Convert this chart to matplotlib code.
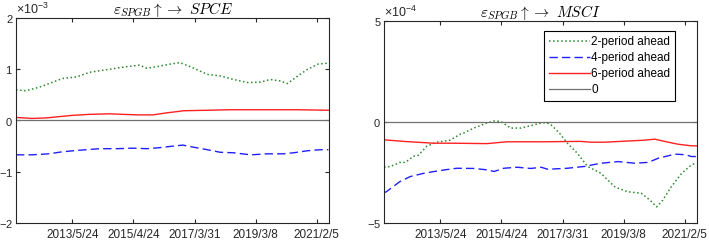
import matplotlib
matplotlib.use("Agg")
import matplotlib.pyplot as plt
from matplotlib.ticker import ScalarFormatter, FixedLocator

plt.rcParams['font.family'] = ['Liberation Sans', 'DejaVu Sans']
plt.rcParams['axes.unicode_minus'] = False
plt.rcParams['mathtext.fontset'] = 'custom'
plt.rcParams['mathtext.rm'] = 'Liberation Sans'

# weekly observations, index 0 ~ 2011/8/26
n_weeks = 512
tick_weeks = [92, 192, 292, 392, 492]
tick_labels = ['2013/5/24', '2015/4/24', '2017/3/31', '2019/3/8', '2021/2/5']
legend_labels = ['2-period ahead', '4-period ahead', '6-period ahead', '0']

# panel 1: eps_SPGB -> SPCE (x1e-3)
spce_w2 = [0, 16, 38, 54, 76, 99, 120, 153, 181, 202, 214, 230, 252, 268, 285,
           313, 334, 356, 379, 400, 416, 433, 444, 461, 477, 494, 511]
spce_v2 = [0.60, 0.58, 0.65, 0.72, 0.82, 0.85, 0.94, 1.00, 1.05, 1.08, 1.02, 1.05, 1.10, 1.13, 1.05,
           0.90, 0.87, 0.80, 0.74, 0.75, 0.80, 0.77, 0.72, 0.87, 1.00, 1.10, 1.12]
spce_w4 = [0, 26, 54, 76, 104, 137, 165, 191, 214, 235, 257, 273, 290, 313, 334,
           356, 384, 412, 438, 454, 477, 498, 511]
spce_v4 = [-0.67, -0.67, -0.65, -0.61, -0.58, -0.55, -0.55, -0.54, -0.55, -0.53, -0.50, -0.48, -0.52, -0.57, -0.62,
           -0.63, -0.67, -0.65, -0.65, -0.63, -0.59, -0.57, -0.57]
spce_w6 = [0, 26, 49, 66, 92, 120, 153, 197, 224, 247, 268, 273, 313, 351, 461, 511]
spce_v6 = [0.06, 0.04, 0.05, 0.07, 0.10, 0.12, 0.13, 0.11, 0.11, 0.15, 0.18, 0.19, 0.20, 0.21, 0.21, 0.20]

# panel 2: eps_SPGB -> MSCI (x1e-4)
msci_w2 = [0, 11, 26, 35, 48, 56, 70, 86, 108, 125, 130, 147, 168, 180, 191, 207, 224, 240, 257, 265, 273,
           287, 300, 316, 333, 355, 377, 398, 421, 435, 446, 456, 470, 487, 503, 511]
msci_v2 = [-2.24, -2.2, -2.0, -2.0, -1.7, -1.65, -1.2, -1.0, -0.9, -0.6, -0.55, -0.3, -0.05, 0.05, 0.03, -0.3, -0.3, -0.18, -0.05, -0.03, -0.13,
           -0.55, -1.05, -1.54, -2.2, -2.54, -3.2, -3.45, -3.53, -3.87, -4.2, -3.87, -3.2, -2.54, -2.12, -2.04]
msci_w4 = [0, 4, 15, 26, 43, 65, 92, 119, 147, 169, 180, 196, 218, 240, 257, 268, 300, 328, 355, 383,
           410, 432, 449, 476, 493, 503, 511]
msci_v4 = [-3.5, -3.45, -3.2, -2.95, -2.7, -2.54, -2.4, -2.29, -2.3, -2.37, -2.45, -2.29, -2.24, -2.3, -2.24, -2.34, -2.29, -2.2, -2.04, -1.96,
           -2.04, -2.0, -1.79, -1.59, -1.62, -1.71, -1.71]
msci_w6 = [0, 32, 81, 114, 168, 201, 257, 322, 339, 361, 426, 443, 465, 481, 503, 511]
msci_v6 = [-0.88, -0.96, -1.05, -1.05, -1.07, -0.98, -0.98, -0.96, -1.0, -1.0, -0.9, -0.85, -1.0, -1.1, -1.18, -1.18]

green = '#2a8a2a'
blue = '#2020ff'
red = '#ff2020'
gray = '#707070'

fig = plt.figure(figsize=(7.09, 2.43), dpi=100)
ax1 = fig.add_axes([16/709, 20/243, 313/709, 205/243])
ax2 = fig.add_axes([384/709, 20/243, 313/709, 202/243])

panels = [
    (ax1, 1e-3, spce_w2, spce_v2, spce_w4, spce_v4, spce_w6, spce_v6, [-2, -1, 0, 1, 2], r'$\varepsilon_{SPGB}\uparrow\rightarrow\ SPCE$'),
    (ax2, 1e-4, msci_w2, msci_v2, msci_w4, msci_v4, msci_w6, msci_v6, [-5, 0, 5], r'$\varepsilon_{SPGB}\uparrow\rightarrow\ MSCI$'),
]

for ax, scale, w2, v2, w4, v4, w6, v6, yt, title in panels:
    ax.plot(w2, [v * scale for v in v2], ls=':', color=green, lw=1.1, label=legend_labels[0])
    ax.plot(w4, [v * scale for v in v4], ls=(0, (6, 3)), color=blue, lw=1.0, label=legend_labels[1])
    ax.plot(w6, [v * scale for v in v6], ls='-', color=red, lw=1.0, label=legend_labels[2])
    ax.axhline(0, color=gray, lw=0.9, label=legend_labels[3])
    ax.set_xlim(0, n_weeks)
    ax.set_ylim(yt[0] * scale, yt[-1] * scale)
    ax.yaxis.set_major_locator(FixedLocator([k * scale for k in yt]))
    fmt = ScalarFormatter(useMathText=True)
    fmt.set_powerlimits((0, 0))
    ax.yaxis.set_major_formatter(fmt)
    ax.yaxis.get_offset_text().set_fontsize(9)
    ax.set_xticks(tick_weeks)
    ax.set_xticklabels(tick_labels)
    ax.tick_params(direction='in', top=True, right=True, length=3, colors='#262626')
    ax.tick_params(axis='x', pad=4, labelsize=8.5)
    ax.tick_params(axis='y', pad=2, labelsize=8)
    for s in ax.spines.values():
        s.set_color('#262626')
        s.set_linewidth(0.8)
    ax.set_title(title, fontsize=11, math_fontfamily='cm', pad=3)

leg = ax2.legend(loc='upper right', bbox_to_anchor=(0.93, 0.95), borderaxespad=0, fontsize=8.5,
                 handlelength=3.5, handletextpad=0.1, labelspacing=0.35, borderpad=0.4,
                 fancybox=False, edgecolor='black', framealpha=1)
leg.get_frame().set_linewidth(0.8)

fig.savefig('out.png', dpi=100)
